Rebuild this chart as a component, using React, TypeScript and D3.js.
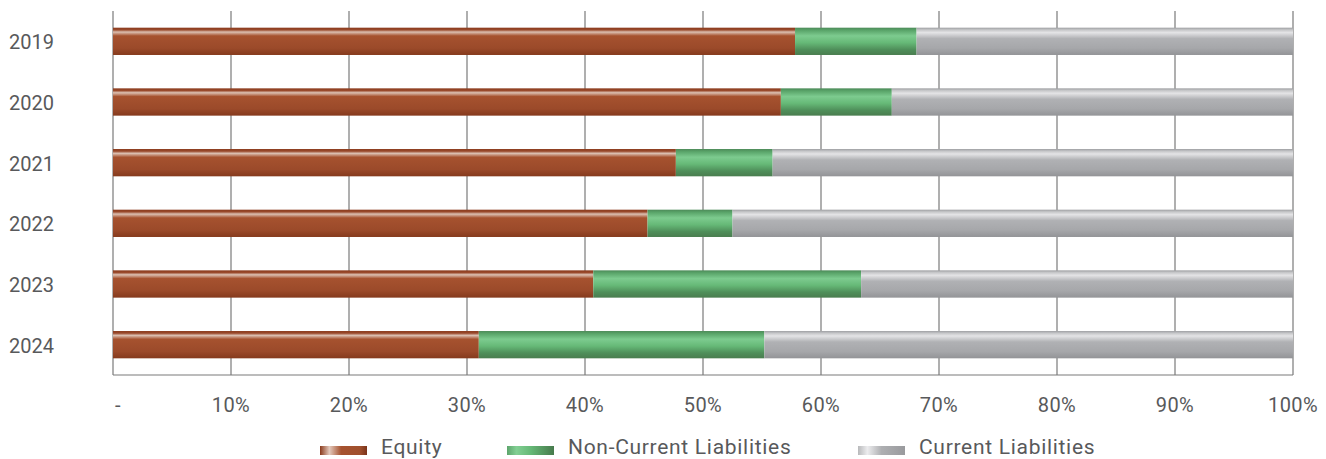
import React from "react";
import * as d3 from "d3";

const years = ["2019", "2020", "2021", "2022", "2023", "2024"];
const equity = [57.8, 56.6, 47.7, 45.3, 40.7, 31.0];
const nonCurrent = [10.3, 9.4, 8.2, 7.2, 22.7, 24.2];
const current = [31.9, 34.0, 44.1, 47.5, 36.6, 44.8];
const seriesNames = ["Equity", "Non-Current Liabilities", "Current Liabilities"];
const xTicks = [0, 10, 20, 30, 40, 50, 60, 70, 80, 90, 100];

const W = 1326, H = 459;
const left = 113, right = 1293, top = 11, bottom = 375;
const font = "Roboto, 'DejaVu Sans', sans-serif";
const textColor = "#58595b";

const gradStops = [
  [["0", "#8a3a1c"], ["0.08", "#9a4a2c"], ["0.16", "#dcc0b2"], ["0.3", "#a6522f"], ["0.75", "#9b4a2a"], ["1", "#853a1d"]],
  [["0", "#4c8a58"], ["0.1", "#5aa56a"], ["0.3", "#7dcb8f"], ["0.55", "#66b977"], ["0.8", "#4f8f5a"], ["1", "#4a7d4f"]],
  [["0", "#9d9ea1"], ["0.08", "#c6c7c9"], ["0.18", "#e4e4e6"], ["0.4", "#b0b1b4"], ["0.75", "#a6a7aa"], ["1", "#939497"]],
];
const legStops = [
  [["0", "#8a3a1c"], ["0.2", "#e3c9bc"], ["0.45", "#a6522f"], ["0.85", "#a0502d"], ["1", "#7a331a"]],
  [["0", "#5da56c"], ["0.2", "#82cf93"], ["0.5", "#66b977"], ["1", "#477a4c"]],
  [["0", "#b8b9bb"], ["0.2", "#ececee"], ["0.5", "#aeafb2"], ["1", "#999a9d"]],
];

export default function App() {
  const x = d3.scaleLinear().domain([0, 100]).range([left, right]);
  const y = d3.scaleBand().domain(years).range([top, bottom]).paddingInner(0.55).paddingOuter(0.275);
  const rows = years.map((yr, i) => {
    const vals = [equity[i], nonCurrent[i], current[i]];
    const total = d3.sum(vals);
    let acc = 0;
    return vals.map((v, k) => {
      const x0 = acc;
      acc += (v / total) * 100;
      return { yr, k, x0, x1: acc };
    });
  });
  const legendX = [320, 507, 858];
  return (
    <svg width={W} height={H} style={{ position: "absolute", left: 0, top: 0 }}>
      <defs>
        {gradStops.map((st, k) => (
          <linearGradient key={k} id={`g${k}`} x1="0" y1="0" x2="0" y2="1">
            {st.map(([o, c], j) => <stop key={j} offset={o} stopColor={c} />)}
          </linearGradient>
        ))}
        {legStops.map((st, k) => (
          <linearGradient key={k} id={`l${k}`} x1="0" y1="0" x2="1" y2="0">
            {st.map(([o, c], j) => <stop key={j} offset={o} stopColor={c} />)}
          </linearGradient>
        ))}
      </defs>
      <rect width={W} height={H} fill="#fff" />
      {xTicks.map((t) => (
        <line key={t} x1={x(t)} x2={x(t)} y1={top} y2={bottom} stroke="#7a7a7a" strokeWidth={1.2} />
      ))}
      <line x1={left} x2={right} y1={bottom} y2={bottom} stroke="#7a7a7a" strokeWidth={1.2} />
      {rows.map((segs) =>
        segs.map((s) => (
          <rect key={s.yr + s.k} x={x(s.x0)} y={y(s.yr)} width={x(s.x1) - x(s.x0)} height={y.bandwidth()} fill={`url(#g${s.k})`} />
        ))
      )}
      {years.map((yr) => (
        <text key={yr} x={54} y={(y(yr) as number) + y.bandwidth() / 2 + 1} textAnchor="end" dominantBaseline="central" fontFamily={font} fontSize={20} fill={textColor}>
          {yr}
        </text>
      ))}
      {xTicks.map((t) => (
        <text key={t} x={t === 0 ? x(t) + 5 : x(t)} y={405} textAnchor="middle" dominantBaseline="central" fontFamily={font} fontSize={20} letterSpacing={0.4} fill={textColor}>
          {t === 0 ? "-" : `${t}%`}
        </text>
      ))}
      {seriesNames.map((n, k) => (
        <g key={n}>
          <rect x={legendX[k]} y={446} width={47} height={9} fill={`url(#l${k})`} />
          <text x={legendX[k] + 61} y={454} fontFamily={font} fontSize={21} letterSpacing={0.7} fill={textColor}>{n}</text>
        </g>
      ))}
    </svg>
  );
}
